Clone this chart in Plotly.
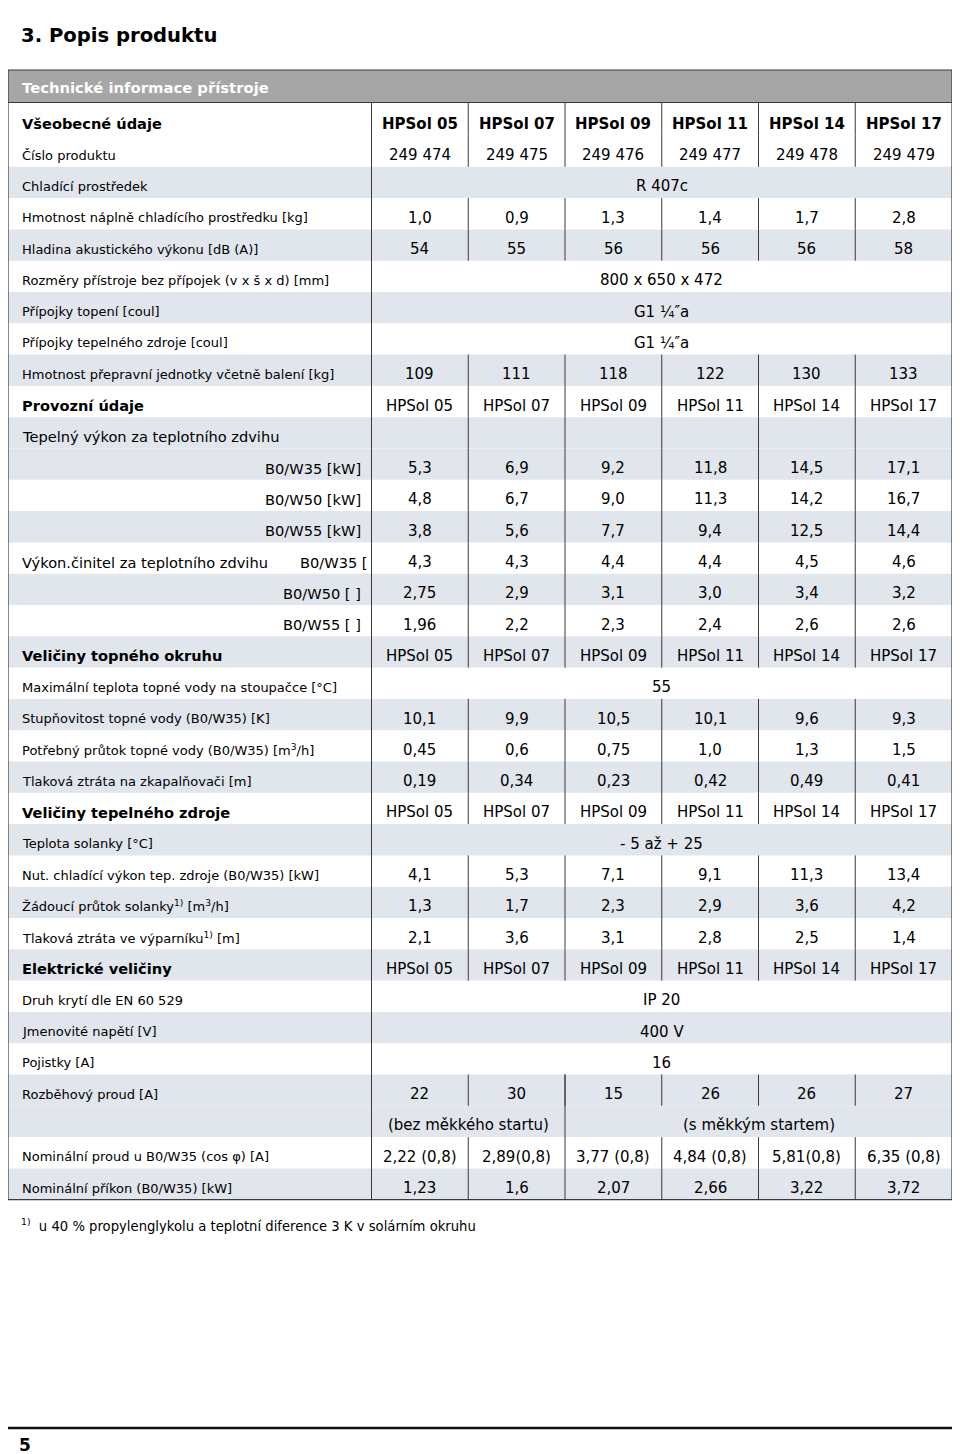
import plotly.graph_objects as go

#####################################################################
# DATA
#####################################################################
MODELS = ['HPSol 05', 'HPSol 07', 'HPSol 09', 'HPSol 11', 'HPSol 14', 'HPSol 17']
PRODUCT_NO = ['249 474', '249 475', '249 476', '249 477', '249 478', '249 479']
REFRIGERANT = 'R 407c'
REFRIGERANT_FILL = ['1,0', '0,9', '1,3', '1,4', '1,7', '2,8']
SOUND_POWER = ['54', '55', '56', '56', '56', '58']
DIMENSIONS = '800 x 650 x 472'
CONN_HEATING = 'G1 ¼″a'
CONN_SOURCE = 'G1 ¼″a'
TRANSPORT_WEIGHT = ['109', '111', '118', '122', '130', '133']

HEAT_W35 = ['5,3', '6,9', '9,2', '11,8', '14,5', '17,1']
HEAT_W50 = ['4,8', '6,7', '9,0', '11,3', '14,2', '16,7']
HEAT_W55 = ['3,8', '5,6', '7,7', '9,4', '12,5', '14,4']
COP_W35 = ['4,3', '4,3', '4,4', '4,4', '4,5', '4,6']
COP_W50 = ['2,75', '2,9', '3,1', '3,0', '3,4', '3,2']
COP_W55 = ['1,96', '2,2', '2,3', '2,4', '2,6', '2,6']

MAX_FLOW_TEMP = '55'
SPREAD = ['10,1', '9,9', '10,5', '10,1', '9,6', '9,3']
HEAT_FLOW = ['0,45', '0,6', '0,75', '1,0', '1,3', '1,5']
DP_CONDENSER = ['0,19', '0,34', '0,23', '0,42', '0,49', '0,41']

BRINE_TEMP = '- 5 až + 25'
COOLING_CAP = ['4,1', '5,3', '7,1', '9,1', '11,3', '13,4']
BRINE_FLOW = ['1,3', '1,7', '2,3', '2,9', '3,6', '4,2']
DP_EVAPORATOR = ['2,1', '3,6', '3,1', '2,8', '2,5', '1,4']

PROTECTION = 'IP 20'
VOLTAGE = '400 V'
FUSES = '16'
START_CURRENT = ['22', '30', '15', '26', '26', '27']
START_NOTE = ['(bez měkkého startu)', '(s měkkým startem)']
START_NOTE_SPAN = [(0, 2), (2, 6)]
NOM_CURRENT = ['2,22 (0,8)', '2,89(0,8)', '3,77 (0,8)', '4,84 (0,8)', '5,81(0,8)', '6,35 (0,8)']
NOM_POWER = ['1,23', '1,6', '2,07', '2,66', '3,22', '3,72']

FOOTNOTE = 'u 40 % propylenglykolu a teplotní diference 3 K v solárním okruhu'

# (label, values, label kind)
ROWS = [
    ('Všeobecné údaje', MODELS, 'head'),
    ('Číslo produktu', PRODUCT_NO, 'small'),
    ('Chladící prostředek', REFRIGERANT, 'small'),
    ('Hmotnost náplně chladícího prostředku [kg]', REFRIGERANT_FILL, 'small'),
    ('Hladina akustického výkonu [dB (A)]', SOUND_POWER, 'small'),
    ('Rozměry přístroje bez přípojek (v x š x d) [mm]', DIMENSIONS, 'small'),
    ('Přípojky topení [coul]', CONN_HEATING, 'small'),
    ('Přípojky tepelného zdroje [coul]', CONN_SOURCE, 'small'),
    ('Hmotnost přepravní jednotky včetně balení [kg]', TRANSPORT_WEIGHT, 'small'),
    ('Provozní údaje', MODELS, 'section'),
    ('Tepelný výkon za teplotního zdvihu', None, 'large'),
    ('B0/W35 [kW]', HEAT_W35, 'sub'),
    ('B0/W50 [kW]', HEAT_W50, 'sub'),
    ('B0/W55 [kW]', HEAT_W55, 'sub'),
    ('Výkon.činitel za teplotního zdvihu', COP_W35, 'large'),
    ('B0/W50 [ ]', COP_W50, 'sub'),
    ('B0/W55 [ ]', COP_W55, 'sub'),
    ('Veličiny topného okruhu', MODELS, 'section'),
    ('Maximální teplota topné vody na stoupačce [°C]', MAX_FLOW_TEMP, 'small'),
    ('Stupňovitost topné vody (B0/W35) [K]', SPREAD, 'small'),
    ('Potřebný průtok topné vody (B0/W35) [m<sup>3</sup>/h]', HEAT_FLOW, 'small'),
    ('Tlaková ztráta na zkapalňovači [m]', DP_CONDENSER, 'small'),
    ('Veličiny tepelného zdroje', MODELS, 'section'),
    ('Teplota solanky [°C]', BRINE_TEMP, 'small'),
    ('Nut. chladící výkon tep. zdroje (B0/W35) [kW]', COOLING_CAP, 'small'),
    ('Žádoucí průtok solanky<sup>1)</sup> [m<sup>3</sup>/h]', BRINE_FLOW, 'small'),
    ('Tlaková ztráta ve výparníku<sup>1)</sup> [m]', DP_EVAPORATOR, 'small'),
    ('Elektrické veličiny', MODELS, 'section'),
    ('Druh krytí dle EN 60 529', PROTECTION, 'small'),
    ('Jmenovité napětí [V]', VOLTAGE, 'small'),
    ('Pojistky [A]', FUSES, 'small'),
    ('Rozběhový proud [A]', START_CURRENT, 'small'),
    ('', 'notes', 'small'),
    ('Nominální proud u B0/W35 (cos φ) [A]', NOM_CURRENT, 'small'),
    ('Nominální příkon (B0/W35) [kW]', NOM_POWER, 'small'),
]
COP_UNIT_ROW = 14
COP_UNIT = 'B0/W35 ['

#####################################################################
# LAYOUT
#####################################################################
W, H = 960, 1454
BODY = 8   # default page margin around the plot div
X0, X1 = 8, 952
SPLIT = 371.5
COL_W = (X1 - SPLIT) / 6
HEAD_TOP, HEAD_BOT = 70, 102.5
ROW_TOP = 104.2
ROW_H = 31.3
TEXT_DY = 4

FONT = 'DejaVu Sans'
GREY = '#e1e5ec'
BAR = '#a6a6a6'
EDGE = '#3a3a3a'

SHADED = [2, 4, 6, 8, 10, 11, 13, 15, 17, 19, 21, 23, 25, 27, 29, 31, 32, 34]
SIZES = {'small': 13, 'large': 14.6, 'sub': 14.6, 'head': 14.6, 'section': 14.6}
VALUE_SIZE = 15


def row_top(i):
    return ROW_TOP + i * ROW_H


def row_text_y(i):
    return ROW_TOP + (i + 0.5) * ROW_H + TEXT_DY


def col_mid(a, b=None):
    """centre between column edges a and b (b defaults to a + 1)"""
    b = a + 1 if b is None else b
    return SPLIT + (a + b) / 2 * COL_W


def text(x, y, s, size, anchor='left', bold=False, color='#000000'):
    return dict(x=x, y=y, xref='x', yref='y', text='<b>%s</b>' % s if bold else s,
                showarrow=False, xanchor=anchor, yanchor='middle',
                font=dict(family=FONT, size=size, color=color))


def line(x0, y0, x1, y1, width=1, color=EDGE):
    return dict(type='line', xref='x', yref='y', x0=x0, y0=y0, x1=x1, y1=y1,
                line=dict(color=color, width=width))


def col_lines(top, bottom):
    return [line(SPLIT + j * COL_W, top, SPLIT + j * COL_W, bottom) for j in range(1, 6)]


annotations = []
shapes = []

# row shading
for i in SHADED:
    shapes.append(dict(type='rect', xref='x', yref='y', layer='below',
                       x0=X0, x1=X1, y0=row_top(i), y1=row_top(i + 1),
                       fillcolor=GREY, line=dict(width=0)))

for i, (label, values, kind) in enumerate(ROWS):
    y = row_text_y(i)
    size = SIZES[kind]
    if kind == 'sub':
        annotations.append(text(SPLIT - 9, y, label, size, anchor='right'))
    elif label:
        annotations.append(text(20, y, label, size, bold=kind in ('head', 'section')))

    top = HEAD_BOT if i == 0 else row_top(i)
    if isinstance(values, list):
        for j, v in enumerate(values):
            annotations.append(text(col_mid(j), y, v, VALUE_SIZE, anchor='center',
                                    bold=kind == 'head'))
        shapes.extend(col_lines(top, row_top(i + 1)))
    elif values == 'notes':
        for note, (a, b) in zip(START_NOTE, START_NOTE_SPAN):
            annotations.append(text(col_mid(a, b), y, note, VALUE_SIZE, anchor='center'))
    elif isinstance(values, str):
        annotations.append(text(col_mid(0, 6), y, values, VALUE_SIZE, anchor='center'))
    elif kind == 'large':
        shapes.extend(col_lines(top, row_top(i + 1)))

annotations.append(text(298, row_text_y(COP_UNIT_ROW), COP_UNIT, SIZES['large']))

# start current: single split between soft start groups
x_split = SPLIT + START_NOTE_SPAN[1][0] * COL_W
shapes.append(line(x_split, row_top(31), x_split, row_top(33)))

# header bar, frame, column split
shapes.append(dict(type='rect', xref='x', yref='y', layer='below',
                   x0=X0, x1=X1, y0=HEAD_TOP, y1=HEAD_BOT,
                   fillcolor=BAR, line=dict(width=0)))
shapes.append(line(X0, HEAD_BOT, X1, HEAD_BOT))
shapes.append(line(SPLIT, HEAD_BOT, SPLIT, row_top(len(ROWS))))
shapes.append(dict(type='rect', xref='x', yref='y', x0=X0, x1=X1,
                   y0=HEAD_TOP, y1=row_top(len(ROWS)),
                   line=dict(color=EDGE, width=1.2)))
annotations.append(text(20, (HEAD_TOP + HEAD_BOT) / 2 + 1, 'Technické informace přístroje',
                        14.8, bold=True, color='#ffffff'))

# page title and footer
shapes.append(line(BODY, 4, W, 4, width=3, color='#111111'))
annotations.append(text(19, 35, '3. Popis produktu', 19.6, bold=True))
annotations.append(text(19, row_top(len(ROWS)) + 25,
                        '<sup>1)</sup>  ' + FOOTNOTE, 13.2))
shapes.append(line(BODY, 1428, W, 1428, width=2.5, color='#111111'))
annotations.append(text(17, 1445, '5', 17, bold=True))

fig = go.Figure()
fig.update_layout(
    width=W - BODY, height=H - BODY,
    margin=dict(l=0, r=0, t=0, b=0),
    paper_bgcolor='white', plot_bgcolor='white',
    showlegend=False,
    xaxis=dict(range=[BODY, W], visible=False, fixedrange=True),
    yaxis=dict(range=[H, BODY], visible=False, fixedrange=True),
    shapes=shapes,
    annotations=annotations)

fig.write_html("out.html")
